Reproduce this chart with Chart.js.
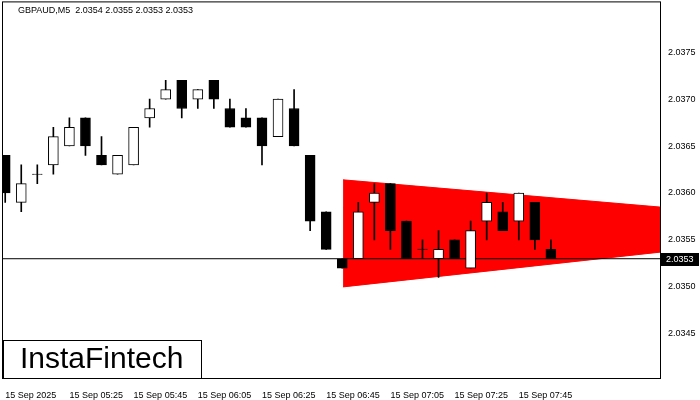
<!DOCTYPE html>
<html><head><meta charset="utf-8">
<script src="https://cdn.jsdelivr.net/npm/chart.js@4/dist/chart.umd.min.js"></script>
<style>html,body{margin:0;background:#fff;overflow:hidden}#outer{width:700px;height:400px;overflow:hidden;position:relative}#wrap{position:absolute;left:0;top:-12px;width:700px;height:412px}</style>
</head><body><div id="outer"><div id="wrap"><canvas id="c"></canvas></div></div>
<script>
// OHLC per 5-minute candle, starting 15 Sep 2025 05:05
const opens  = [2.0364,2.0359,2.0362,2.0363,2.0365,2.0368,2.0364,2.0362,2.0363,2.0368,2.0370,2.0372,2.0370,2.0372,2.0369,2.0368,2.0368,2.0366,2.0369,2.0364,2.0358,2.0353,2.0353,2.0359,2.0361,2.0357,2.0354,2.0353,2.0355,2.0352,2.0357,2.0358,2.0357,2.0359,2.0354];
const highs  = [2.0364,2.0363,2.0363,2.0367,2.0368,2.0368,2.0366,2.0364,2.0367,2.0370,2.0372,2.0372,2.0371,2.0372,2.0370,2.0369,2.0368,2.0370,2.0371,2.0364,2.0358,2.0353,2.0359,2.0361,2.0361,2.0357,2.0355,2.0356,2.0355,2.0357,2.0360,2.0359,2.0360,2.0359,2.0355];
const lows   = [2.0359,2.0358,2.0361,2.0362,2.0365,2.0364,2.0363,2.0362,2.0363,2.0367,2.0370,2.0368,2.0369,2.0369,2.0367,2.0367,2.0363,2.0366,2.0365,2.0356,2.0354,2.0352,2.0353,2.0355,2.0354,2.0353,2.0353,2.0351,2.0353,2.0352,2.0355,2.0356,2.0355,2.0354,2.0353];
const closes = [2.0360,2.0361,2.0362,2.0366,2.0367,2.0365,2.0363,2.0364,2.0367,2.0369,2.0371,2.0369,2.0371,2.0370,2.0367,2.0367,2.0365,2.0370,2.0365,2.0357,2.0354,2.0352,2.0358,2.0360,2.0356,2.0353,2.0354,2.0354,2.0353,2.0356,2.0359,2.0356,2.0360,2.0355,2.0353];
const timeLabels = ['15 Sep 2025','15 Sep 05:25','15 Sep 05:45','15 Sep 06:05','15 Sep 06:25','15 Sep 06:45','15 Sep 07:05','15 Sep 07:25','15 Sep 07:45'];
const timeIdx = [0,4,8,12,16,20,24,28,32];
const priceTicks = [2.0345,2.0350,2.0355,2.0360,2.0365,2.0370,2.0375];
const triTop = [[21.05,2.03614],[40.8,2.03585]];
const triBottom = [[21.05,2.03500],[40.8,2.03537]];
const lastPrice = 2.0353;

// doji candles get a hairline body so they stay visible
const bodies = opens.map((o,i)=>({x:i,y:o===closes[i]?[o-0.000002,o+0.000002]:[o,closes[i]]}));
const wicks = highs.map((h,i)=>({x:i,y:[lows[i],h]}));
const up = opens.map((o,i)=>closes[i]>o);
const font = {family:'Liberation Sans',size:9};
const OFF = 12; // canvas is shifted up by this much

const overlay = {
  id:'overlay',
  afterDraw(chart){
    const c=chart.ctx, y=chart.scales.y, a=chart.chartArea;
    c.save();
    c.strokeStyle='#000';c.lineWidth=1;
    c.strokeRect(a.left+0.5,a.top+0.5,a.right-a.left,a.bottom-a.top);
    // last price tag
    const py=Math.round(y.getPixelForValue(lastPrice));
    c.fillStyle='#000';c.fillRect(a.right+1,py-6,38,13);
    c.fillStyle='#fff';c.font='9px Liberation Sans';c.textBaseline='middle';
    c.fillText(lastPrice.toFixed(4),a.right+6,py+0.5);
    // header
    c.fillStyle='#000';c.textBaseline='top';
    c.fillText('GBPAUD,M5  2.0354 2.0355 2.0353 2.0353',18,6+OFF);
    // logo
    c.fillStyle='#fff';c.fillRect(3,340+OFF,198,38);
    c.strokeRect(3.5,340.5+OFF,198,38);
    c.fillStyle='#000';c.font='30px Liberation Sans';c.textBaseline='middle';
    c.fillText('InstaFintech',20,360+OFF);
    c.restore();
  }
};

new Chart(document.getElementById('c'),{
  type:'bar',
  data:{datasets:[
    {type:'line',data:triTop.map(p=>({x:p[0],y:p[1]})),borderColor:'#ff0000',borderWidth:1,pointRadius:0,fill:false,order:5},
    {type:'line',data:triBottom.map(p=>({x:p[0],y:p[1]})),borderColor:'#ff0000',borderWidth:1,pointRadius:0,fill:'-1',backgroundColor:'#ff0000',order:4},
    {type:'line',data:[{x:-0.2,y:lastPrice},{x:40.8,y:lastPrice}],borderColor:'#000',borderWidth:1,pointRadius:0,fill:false,order:3},
    {data:wicks,backgroundColor:'#000',barThickness:1,grouped:false,order:2},
    {data:bodies,backgroundColor:up.map(u=>u?'#fff':'#000'),borderColor:'#000',borderWidth:1,borderSkipped:false,barThickness:10,grouped:false,order:1}
  ]},
  plugins:[overlay],
  options:{
    responsive:true,maintainAspectRatio:false,animation:false,
    layout:{padding:{left:2,top:0,right:0,bottom:0}},
    plugins:{legend:{display:false},tooltip:{enabled:false}},
    scales:{
      x:{type:'linear',min:-0.2,max:40.8,offset:false,grid:{display:false},border:{display:false},
        afterBuildTicks(s){s.ticks=timeIdx.map(v=>({value:v}));},
        afterFit(s){s.height=22;},
        ticks:{autoSkip:false,maxRotation:0,align:'start',color:'#000',font,padding:4,
          callback:(v)=>timeLabels[timeIdx.indexOf(v)]}},
      y:{position:'right',min:2.03403,max:2.03804,grid:{display:false,drawTicks:false},border:{display:false},
        afterBuildTicks(s){s.ticks=priceTicks.map(v=>({value:v}));},
        afterFit(s){s.width=40;},
        ticks:{color:'#000',font,padding:8,callback:v=>v.toFixed(4)}}
    }
  }
});
</script></body></html>
